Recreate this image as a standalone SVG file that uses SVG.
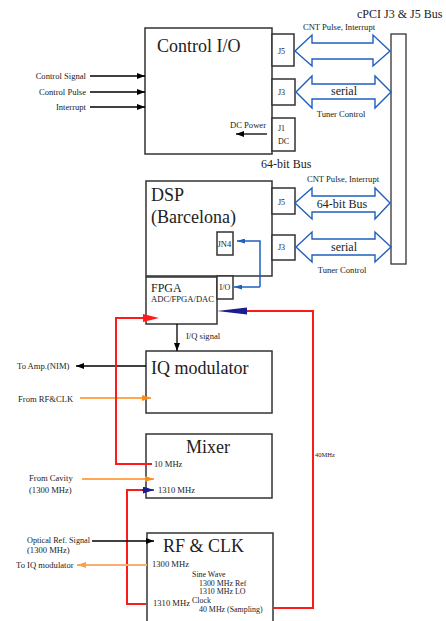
<svg xmlns="http://www.w3.org/2000/svg" width="446" height="621" viewBox="0 0 446 621">
<style>
.box{fill:#fff;stroke:#333;stroke-width:1.5}
.t{font-family:"Liberation Serif","Times New Roman",serif;fill:#222}
.big{font-size:18px}
.mid{font-size:12px}
.sm{font-size:8.6px}
.rf{font-size:7.9px}
.xs{font-size:8px}
.bus{fill:#fff;stroke:#1f5fbf;stroke-width:1.4}
.blk{fill:none;stroke:#000;stroke-width:1.3}
.red{fill:none;stroke:#ff1a1a;stroke-width:2}
.org{fill:none;stroke:#ff8a1a;stroke-width:1.5}
.lorg{fill:none;stroke:#f8b070;stroke-width:2}
.blu{fill:none;stroke:#1f5fbf;stroke-width:1.5}
</style>
<defs>
<marker id="aBlk" markerUnits="userSpaceOnUse" markerWidth="8" markerHeight="6" refX="8" refY="3" orient="auto"><path d="M0,0 L8,3 L0,6 z" fill="#000"/></marker>
<marker id="aOrg" markerUnits="userSpaceOnUse" markerWidth="9" markerHeight="6" refX="9" refY="3" orient="auto"><path d="M0,0 L9,3 L0,6 z" fill="#ff8a1a"/></marker>
<marker id="aLOrg" markerUnits="userSpaceOnUse" markerWidth="9" markerHeight="6" refX="9" refY="3" orient="auto"><path d="M0,0 L9,3 L0,6 z" fill="#f8a050"/></marker>
<marker id="aNavy" markerUnits="userSpaceOnUse" markerWidth="11" markerHeight="7" refX="11" refY="3.5" orient="auto"><path d="M0,0 L11,3.5 L0,7 z" fill="#1c1c8c"/></marker>
<marker id="aBlu" markerUnits="userSpaceOnUse" markerWidth="8" markerHeight="5" refX="8" refY="2.5" orient="auto"><path d="M0,0 L8,2.5 L0,5 z" fill="#1f5fbf"/></marker>
</defs>

<g id="bus-bar">
<rect x="391" y="34" width="15" height="230" fill="#fff" stroke="#333" stroke-width="1.3"/>
<text class="t mid" x="357" y="18">cPCI J3 &amp; J5 Bus</text>
</g>

<g id="control-io">
<rect class="box" x="145" y="28" width="127" height="126"/>
<text class="t big" x="157" y="52">Control I/O</text>
<rect class="box" x="272" y="34" width="22" height="32"/>
<text class="t xs" x="278" y="54">J5</text>
<rect class="box" x="272" y="79" width="23" height="26"/>
<text class="t xs" x="278" y="95">J3</text>
<rect class="box" x="272" y="118" width="23" height="33"/>
<text class="t xs" x="278" y="131">J1</text>
<text class="t xs" x="278" y="144">DC</text>
<text class="t sm" x="230" y="128">DC Power</text>
</g>

<g id="dsp">
<rect class="box" x="146" y="181" width="126" height="95"/>
<text class="t big" x="151" y="201">DSP</text>
<text class="t big" x="151" y="223">(Barcelona)</text>
<rect class="box" x="272" y="188" width="23" height="26"/>
<text class="t xs" x="278" y="205">J5</text>
<rect class="box" x="272" y="235" width="23" height="25"/>
<text class="t xs" x="278" y="250">J3</text>
<rect class="box" x="217" y="232" width="16" height="23"/>
<text class="t" font-size="8.5" x="217.5" y="247">JN4</text>
</g>

<g id="fpga">
<rect class="box" x="146" y="277" width="71" height="47"/>
<text class="t mid" x="151" y="292">FPGA</text>
<text class="t sm" x="151" y="302">ADC/FPGA/DAC</text>
<rect class="box" x="217" y="276" width="16" height="23"/>
<text class="t xs" x="219.5" y="290">I/O</text>
</g>

<g id="iq-modulator">
<rect class="box" x="146" y="351" width="126" height="62"/>
<text class="t big" x="151" y="374">IQ modulator</text>
</g>

<g id="mixer">
<rect class="box" x="146" y="434" width="126" height="64"/>
<text class="t big" x="208" y="453" text-anchor="middle">Mixer</text>
<text class="t sm" x="154" y="467">10 MHz</text>
<text class="t sm" x="158" y="493">1310 MHz</text>
</g>

<g id="rf-clk">
<rect class="box" x="147" y="533" width="126" height="95"/>
<text class="t big" x="163" y="552">RF &amp; CLK</text>
<text class="t sm" x="152" y="567">1300 MHz</text>
<text class="t rf" x="192" y="577">Sine Wave</text>
<text class="t rf" x="199" y="585.5">1300 MHz Ref</text>
<text class="t rf" x="199" y="594">1310 MHz LO</text>
<text class="t rf" x="192" y="602.5">Clock</text>
<text class="t rf" x="199" y="611.5">40 MHz (Sampling)</text>
<text class="t sm" x="153" y="606">1310 MHz</text>
</g>

<g id="connectors">
<polygon class="bus" points="295,51 312,35 312,43 373,43 373,35 390,51 373,66 373,59 312,59 312,66"/>
<polygon class="bus" points="296,92 312,76 312,84 375,84 375,76 391,92 375,108 375,99 312,99 312,108"/>
<polygon class="bus" points="295,203 312,188 312,196 375,196 375,188 390,203 375,219 375,212 312,212 312,219"/>
<polygon class="bus" points="296,247 312,232 312,239 375,239 375,232 391,247 375,262 375,255 312,255 312,262"/>
<text class="t sm" x="339" y="30" text-anchor="middle">CNT Pulse, Interrupt</text>
<text class="t mid" x="344" y="95" text-anchor="middle">serial</text>
<text class="t sm" x="341" y="117" text-anchor="middle">Tuner Control</text>
<text class="t mid" x="261" y="168">64-bit Bus</text>
<text class="t sm" x="343" y="182" text-anchor="middle">CNT Pulse, Interrupt</text>
<text class="t mid" x="342" y="208" text-anchor="middle">64-bit Bus</text>
<text class="t mid" x="344" y="251" text-anchor="middle">serial</text>
<text class="t sm" x="342" y="273" text-anchor="middle">Tuner Control</text>

<line class="blk" x1="90" y1="76" x2="145" y2="76" marker-end="url(#aBlk)"/>
<line class="blk" x1="90" y1="92" x2="145" y2="92" marker-end="url(#aBlk)"/>
<line class="blk" x1="90" y1="107" x2="145" y2="107" marker-end="url(#aBlk)"/>
<text class="t sm" x="86" y="79" text-anchor="end">Control Signal</text>
<text class="t sm" x="86" y="95" text-anchor="end">Control Pulse</text>
<text class="t sm" x="86" y="110" text-anchor="end">Interrupt</text>
<line class="blk" x1="267" y1="134" x2="236" y2="134" marker-end="url(#aBlk)"/>

<polyline class="blu" points="260,287 260,241 237,241" marker-end="url(#aBlu)"/>
<line class="blu" x1="260" y1="287" x2="234" y2="287" marker-end="url(#aBlu)"/>

<line class="blk" x1="177" y1="324" x2="177" y2="351" marker-end="url(#aBlk)"/>
<text class="t sm" x="186" y="339">I/Q signal</text>

<line class="blk" x1="146" y1="366" x2="76" y2="366" marker-end="url(#aBlk)"/>
<text class="t sm" x="17" y="369">To Amp.(NIM)</text>
<line class="org" x1="80" y1="398" x2="151" y2="398" marker-end="url(#aOrg)"/>
<text class="t sm" x="18" y="402">From RF&amp;CLK</text>

<polyline class="red" points="152,464 116,464 116,318 145,318"/>
<polygon points="143,314 159,318 143,322" fill="#ff1a1a"/>

<polyline class="red" points="273,608 313,608 313,311 247,311"/>
<polygon points="247,307.5 217,311 247,314.5" fill="#1c1c8c"/>
<text class="t" font-size="6.5" x="315" y="457">40MHz</text>

<line class="org" x1="82" y1="479" x2="154" y2="479" marker-end="url(#aOrg)"/>
<text class="t sm" x="29" y="481">From Cavity</text>
<text class="t sm" x="29" y="493">(1300 MHz)</text>
<polyline class="red" points="146,604 127,604 127,490 143,490"/>
<line x1="142" y1="490" x2="154" y2="490" stroke="#1c1c8c" stroke-width="1.5" marker-end="url(#aNavy)"/>

<line class="blk" x1="92" y1="541" x2="154" y2="541" marker-end="url(#aBlk)"/>
<text class="t" font-size="8.2" x="27" y="543">Optical Ref. Signal</text>
<text class="t sm" x="27" y="553">(1300 MHz)</text>
<line class="lorg" x1="147" y1="565" x2="77" y2="565" marker-end="url(#aLOrg)"/>
<text class="t sm" x="16" y="568">To IQ modulator</text>
</g>
</svg>
